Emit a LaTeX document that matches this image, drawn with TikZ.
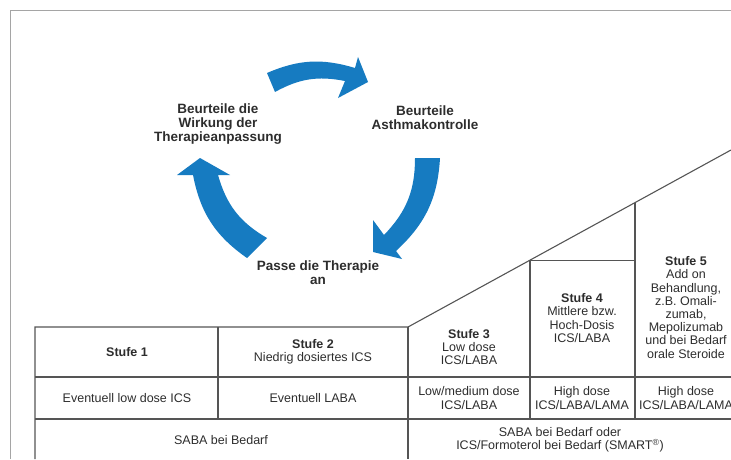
\documentclass[tikz,border=0pt]{standalone}
\usepackage{fontspec}
\setmainfont{Liberation Sans}
\usetikzlibrary{positioning}
\definecolor{cycblue}{RGB}{22,123,193}
\definecolor{txtgray}{RGB}{45,45,45}
\definecolor{rulegray}{RGB}{85,85,85}
\definecolor{framegray}{RGB}{165,165,165}

\begin{document}
\begin{tikzpicture}[x=1pt,y=1pt,
    cell/.style={align=center, font=\fontsize{12.5}{13.2}\selectfont, text=txtgray, inner sep=0pt},
    cyclabel/.style={align=center, font=\fontsize{13.5}{14}\selectfont\bfseries, text=txtgray, inner sep=0pt},
    grid/.style={rulegray, line width=1.1pt},
    cycarrow/.style={fill=cycblue, draw=none}]
  \useasboundingbox (0,0) rectangle (731,459);
  \draw[framegray, line width=0.8pt] (10,0) -- (10,448.7) -- (731,448.7);

  % Kreislauf
  \node[cyclabel] (wirkung) at (218,335) {Beurteile die\\Wirkung der\\Therapieanpassung};
  \node[cyclabel] (kontrolle) at (425,341) {Beurteile\\Asthmakontrolle};
  \node[cyclabel] (anpassen) at (318,186) {Passe die Therapie\\an};
  \fill[cycarrow] (267,386) to[bend left=20] (355,391) -- (358,402) -- (368,377)
    -- (338,361) -- (345,378) to[bend right=20] (275,367) -- cycle;
  \fill[cycarrow] (440,301) to[bend left=22] (396,208) -- (402,200) -- (373,207)
    -- (373,239) -- (384,224) to[bend right=22] (415,301) -- cycle;
  \fill[cycarrow] (247,201) to[bend left=22] (193,284) -- (177,284) -- (200,301)
    -- (230,284) -- (218,284) to[bend right=22] (267,221) -- cycle;

  % Stufenschema
  \draw[grid] (35,0) -- (35,132) -- (408,132) -- (731,309);
  \draw[grid] (35,82) -- (731,82);
  \draw[grid] (35,40) -- (731,40);
  \draw[grid] (218,132) -- (218,40);
  \draw[grid] (408,132) -- (408,0);
  \draw[grid] (530,198.9) -- (530,40);
  \draw[grid] (635,256.4) -- (635,40);
  \draw[grid] (530,198.9) -- (635,198.9);

  \node[cell] (stufeA) at (127,107) {\bfseries Stufe 1};
  \node[cell] (stufeB) at (313,107) {{\bfseries Stufe 2}\\Niedrig dosiertes ICS};
  \node[cell] (stufeC) at (469,112) {{\bfseries Stufe 3}\\Low dose\\ICS/LABA};
  \node[cell] (stufeD) at (582,141) {{\bfseries Stufe 4}\\Mittlere bzw.\\Hoch-Dosis\\ICS/LABA};
  \node[cell] (stufeE) at (686,151.5) {{\bfseries Stufe 5}\\Add on\\Behandlung,\\z.B. Omali-\\zumab,\\Mepolizumab\\und bei Bedarf\\orale Steroide};

  \node[cell] (optA) at (127,61) {Eventuell low dose ICS};
  \node[cell] (optB) at (313,61) {Eventuell LABA};
  \node[cell] (optC) at (469,61) {Low/medium dose\\ICS/LABA};
  \node[cell] (optD) at (582,61) {High dose\\ICS/LABA/LAMA};
  \node[cell] (optE) at (686,61) {High dose\\ICS/LABA/LAMA};

  \node[cell] (sabaL) at (221,19) {SABA bei Bedarf};
  \node[cell] (sabaR) at (560,19) {SABA bei Bedarf oder\\ICS/Formoterol bei Bedarf (SMART\textsuperscript{\textregistered})};
\end{tikzpicture}
\end{document}
